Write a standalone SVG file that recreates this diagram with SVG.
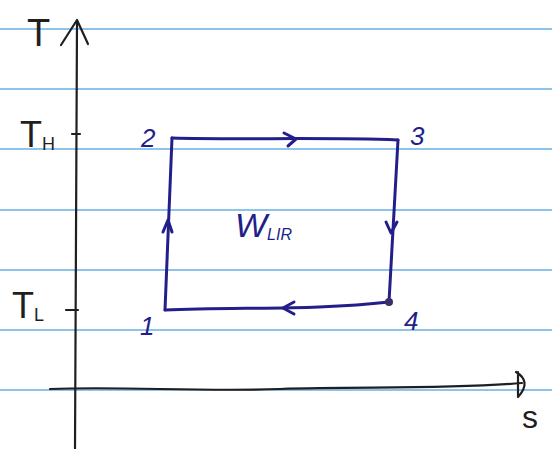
<svg xmlns="http://www.w3.org/2000/svg" width="552" height="449" viewBox="0 0 552 449">
<defs>
<style>
.rule{stroke:#8ec3ec;stroke-width:2;fill:none}
.ink{stroke:#1f1f1f;stroke-width:2.2;fill:none;stroke-linecap:round;stroke-linejoin:round}
.blue{stroke:#231f8a;stroke-width:3;fill:none;stroke-linecap:round;stroke-linejoin:round}
.bt{font-family:"Liberation Sans",sans-serif;fill:#231f8a;font-style:italic}
.kt{font-family:"Liberation Sans",sans-serif;fill:#1f1f1f}
</style>
</defs>
<rect width="552" height="449" fill="#ffffff"/>
<g id="paper">
<path class="rule" d="M0 29 H552"/>
<path class="rule" d="M0 89 H552"/>
<path class="rule" d="M0 149 H552"/>
<path class="rule" d="M0 210 H552"/>
<path class="rule" d="M0 270 H552"/>
<path class="rule" d="M0 330 H552"/>
<path class="rule" d="M0 390 H552"/>
</g>
<g id="axes">
<path class="ink" d="M77 22 L75 449"/>
<path class="ink" d="M61 45 L77 20 L88 44"/>
<path class="ink" d="M50 389 C120 386 200 392 280 389 C360 386 440 390 522 383"/>
<path class="ink" d="M516 372 C526 378 528 386 518 397 M518 372 L518 396"/>
<path class="ink" d="M72 134 L80 134"/>
<path class="ink" d="M66 310 L78 310"/>
</g>
<g id="label-T"><text class="kt" x="27" y="46" font-size="38">T</text></g>
<g id="label-TH"><text class="kt" x="20" y="147" font-size="36">T<tspan font-size="18" dy="3">H</tspan></text></g>
<g id="label-TL"><text class="kt" x="12" y="318" font-size="36">T<tspan font-size="18" dy="3">L</tspan></text></g>
<g id="label-s"><text class="kt" x="522" y="428" font-size="32">s</text></g>
<g id="connectors">
<path class="blue" d="M172 138 C240 140 320 137 398 140"/>
<path class="blue" d="M398 140 L389 302"/>
<path class="blue" d="M389 302 C320 310 240 307 165 310"/>
<path class="blue" d="M165 310 L172 138"/>
<path class="blue" d="M284 133 L296 139 L288 146"/>
<path class="blue" d="M386 222 L391 233 L397 222"/>
<path class="blue" d="M294 302 L283 308 L294 314"/>
<path class="blue" d="M163 232 L168 220 L172 232"/>
<circle cx="389" cy="302" r="4" fill="#3a2f6a"/>
</g>
<g id="state-1"><text class="bt" x="140" y="335" font-size="26">1</text></g>
<g id="state-2"><text class="bt" x="141" y="147" font-size="26">2</text></g>
<g id="state-3"><text class="bt" x="410" y="145" font-size="26">3</text></g>
<g id="state-4"><text class="bt" x="404" y="330" font-size="26">4</text></g>
<g id="work"><text class="bt" x="235" y="237" font-size="34">W<tspan font-size="16" dy="3">LIR</tspan></text></g>
</svg>
